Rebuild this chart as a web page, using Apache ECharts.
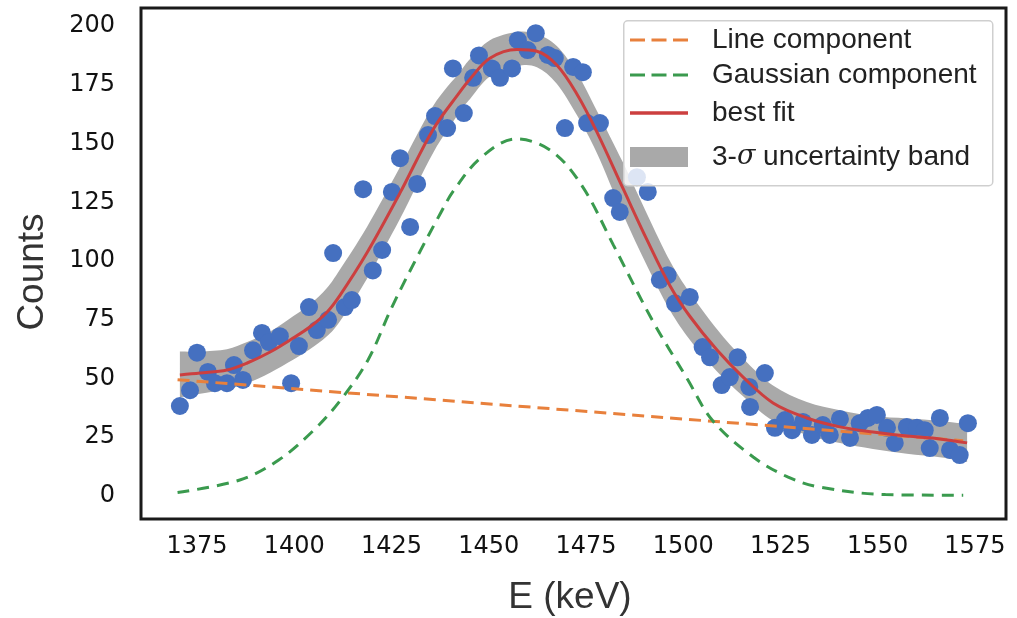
<!DOCTYPE html>
<html>
<head>
<meta charset="utf-8">
<script src="https://cdn.jsdelivr.net/npm/echarts@6/dist/echarts.min.js"></script>
<style>
html,body{margin:0;padding:0;background:#ffffff;}
#chart{width:1017px;height:618px;}
</style>
</head>
<body>
<div id="chart"></div>
<script>
// ---- tick labels ----
const xTickValues = [1375, 1400, 1425, 1450, 1475, 1500, 1525, 1550, 1575];
const yTickValues = [0, 25, 50, 75, 100, 125, 150, 175, 200];

// ---- measured points (E in keV, counts) ----
const pointE = [1370.6,1373.2,1375.0,1377.8,1379.6,1382.7,1384.5,1386.8,1389.4,1391.7,1393.5,1396.3,1399.2,1401.2,1403.8,1405.8,1408.7,1410.0,1413.0,1414.8,1417.7,1420.2,1422.6,1425.1,1427.2,1429.8,1431.6,1434.4,1436.2,1439.3,1440.8,1443.6,1446.0,1447.5,1450.8,1452.9,1456.0,1457.5,1460.0,1462.1,1465.2,1467.0,1469.6,1471.7,1474.2,1475.3,1478.6,1482.0,1483.7,1488.1,1490.9,1494.0,1496.0,1497.9,1501.7,1505.0,1506.9,1509.9,1512.0,1514.0,1517.0,1517.2,1521.0,1523.6,1526.2,1528.0,1530.8,1533.1,1535.9,1537.7,1540.3,1542.9,1545.4,1547.5,1549.8,1552.4,1554.4,1557.5,1560.1,1562.1,1563.4,1566.0,1568.6,1571.1,1573.2];
const pointCounts = [38.3,45,61,52.8,48,48,55.7,49.4,62,69.4,65.5,68,48,63.8,80.4,70.6,75,103.4,80.4,83.4,130.6,96,104.7,129.4,143.8,114.5,132.8,153.6,161.7,156.6,182,163,178,187.5,182,178,182,194,189.8,197,187.7,186.4,156.6,182.6,180.4,158.7,158.7,126.8,120.9,135.7,129.4,92,94,82,84.7,63.4,59,47.2,50.6,59,46.4,37.9,52.3,29,32.3,28,31.5,26,30.2,26,32.8,24.7,31,33.2,34.5,29,22.6,29.4,29,28,20.4,33.2,19.6,17.4,31];

// ---- best fit curve and 3-sigma band ----
const fitE = [1370.6,1375.8,1382.7,1387.9,1393.8,1399.7,1404.0,1408.4,1411.8,1418.7,1427.2,1435.7,1442.6,1445.2,1450.3,1457.3,1462.4,1467.5,1472.7,1477.8,1484.5,1490.7,1496.6,1501.7,1508.7,1515.4,1523.1,1531.8,1540.3,1548.8,1557.5,1566.0,1573.0];
const fitCounts = [51.5,52.3,53.6,56.6,61.3,67.2,71.9,78.2,85.5,103.5,129,156,172,177.5,186.3,190,189.3,183.4,171,155,131,109,89.5,76.5,62.1,50.6,39.6,33.2,29.4,27.2,25.5,24.3,22.6];
const bandLower = [42,43.5,45.5,48,52.5,58,62.5,68,74.5,92.5,118,146,163.5,169,178.5,183,182.5,175.5,162,146,120,98,79,66.5,53,42.5,32,26,22.5,20,18,16.5,14.5];
const bandUpper = [61.5,61.5,62.5,65.5,70,76.5,81.5,88.5,96.5,114.5,140,166,180.5,186,194,197.5,196.5,191.5,180,164,142,120,100,86.5,71,58.5,47,40,36.5,34,33,32,30.5];

// ---- Gaussian component ----
const gaussE = [1370,1386,1396,1405,1412,1419,1425,1432,1437.5,1441,1448,1457,1466,1474,1482,1492,1501,1507.6,1518,1527,1535,1552,1572];
const gaussCounts = [1.5,6.8,15.3,28,41,58,80,103,120,130,144,152,147,132,107,75,50,32,16.6,8,3.8,0.6,0.3];

// ---- Line component ----
const lineE = [1370, 1572];
const lineCounts = [49.5, 23.5];

const zip = (a, b) => a.map((v, i) => [v, b[i]]);

// Catmull-Rom style smoothing of screen points into bezier path commands
function curveCmds(pts) {
  let d = '';
  for (let i = 0; i < pts.length - 1; i++) {
    const p0 = pts[i - 1] || pts[i], p1 = pts[i], p2 = pts[i + 1], p3 = pts[i + 2] || p2;
    const c1 = [p1[0] + (p2[0] - p0[0]) / 6, p1[1] + (p2[1] - p0[1]) / 6];
    const c2 = [p2[0] - (p3[0] - p1[0]) / 6, p2[1] - (p3[1] - p1[1]) / 6];
    d += ' C' + c1[0].toFixed(2) + ',' + c1[1].toFixed(2) + ' ' + c2[0].toFixed(2) + ',' + c2[1].toFixed(2) + ' ' + p2[0].toFixed(2) + ',' + p2[1].toFixed(2);
  }
  return d;
}

const chart = echarts.init(document.getElementById('chart'), null, {renderer: 'canvas'});

const legendText = {
  fontFamily: "'Liberation Sans', Arial, sans-serif",
  fontSize: 28,
  color: '#222222',
  lineHeight: 32,
  padding: [0, 0, 0, 19],
  rich: {
    i: {fontFamily: "'DejaVu Serif', serif", fontStyle: 'italic', fontSize: 27, color: '#222222', lineHeight: 32}
  }
};
const dashIcon = 'path://M0,0h15v3h-15z M21.5,0h15v3h-15z M43,0h15v3h-15z';
const solidIcon = 'path://M0,0h58v3.5h-58z';
function legendAt(top, item) {
  return {
    show: true, orient: 'vertical', left: 630, top: top, padding: 0,
    itemWidth: 58, itemHeight: 20, itemGap: 0, z: 20,
    textStyle: legendText, selectedMode: false,
    formatter: function (n) { return n === '3-σ uncertainty band' ? '3-{i|σ} uncertainty band' : n; },
    data: [item]
  };
}

const option = {
  animation: false,
  backgroundColor: '#ffffff',
  grid: {left: 141, right: 11, top: 8, bottom: 99, show: true, borderColor: '#1a1a1a', borderWidth: 3, backgroundColor: 'transparent'},
  xAxis: {
    type: 'value', min: 1360.6, max: 1583,
    axisLine: {show: false}, axisTick: {show: false}, splitLine: {show: false},
    axisLabel: {customValues: xTickValues, formatter: v => String(v), margin: 16, fontFamily: "'DejaVu Sans', Verdana, sans-serif", fontSize: 24, color: '#111111'}
  },
  yAxis: {
    type: 'value', min: -9.8, max: 207.7,
    axisLine: {show: false}, axisTick: {show: false}, splitLine: {show: false},
    axisLabel: {customValues: yTickValues, formatter: v => String(v), margin: 26, fontFamily: "'DejaVu Sans', Verdana, sans-serif", fontSize: 24, color: '#111111'}
  },
  legend: [
    legendAt(24, {name: 'Line component', icon: dashIcon, itemStyle: {color: '#e8803c'}}),
    legendAt(59, {name: 'Gaussian component', icon: dashIcon, itemStyle: {color: '#3a9a4e'}}),
    legendAt(97, {name: 'best fit', icon: solidIcon, itemStyle: {color: '#cc3f3f'}}),
    legendAt(141, {name: '3-σ uncertainty band', icon: 'rect', itemStyle: {color: '#a9a9a9'}})
  ],
  graphic: [
    {type: 'rect', left: 623, top: 20, z: 15, shape: {width: 369, height: 165, r: 4},
     style: {fill: 'rgba(255,255,255,0.82)', stroke: '#cfcfcf', lineWidth: 1.5}},
    {type: 'text', x: 33, y: 272, rotation: Math.PI / 2, z: 20,
     style: {text: 'Counts', fontFamily: "'Liberation Sans', Arial, sans-serif", fontSize: 37, fill: '#333333', align: 'center', verticalAlign: 'middle'}},
    {type: 'text', x: 570, y: 598, z: 20,
     style: {text: 'E (keV)', fontFamily: "'Liberation Sans', Arial, sans-serif", fontSize: 37, fill: '#333333', align: 'center', verticalAlign: 'middle'}}
  ],
  series: [
    {name: '3-σ uncertainty band', type: 'custom', z: 1, silent: true, clip: true,
     data: fitE.map((e, i) => [e, bandLower[i], bandUpper[i]]),
     encode: {x: 0, y: [1, 2]},
     renderItem: function (params, api) {
       if (params.dataIndex !== 0) return null;
       const up = fitE.map((e, i) => api.coord([e, bandUpper[i]]));
       const lo = fitE.map((e, i) => api.coord([e, bandLower[i]])).reverse();
       const d = 'M' + up[0][0] + ',' + up[0][1] + curveCmds(up) +
                 ' L' + lo[0][0] + ',' + lo[0][1] + curveCmds(lo) + ' Z';
       return {type: 'path', shape: {pathData: d}, style: {fill: '#a9a9a9', stroke: null}};
     },
     itemStyle: {color: '#a9a9a9'}},
    {name: 'points', type: 'scatter', data: zip(pointE, pointCounts), symbolSize: 18,
     itemStyle: {color: '#4570c0', opacity: 1}, z: 2, silent: true},
    {name: 'Line component', type: 'line', data: zip(lineE, lineCounts), symbol: 'none',
     lineStyle: {color: '#e8803c', width: 3, type: [12, 7]}, itemStyle: {color: '#e8803c'}, z: 3, silent: true},
    {name: 'Gaussian component', type: 'line', data: zip(gaussE, gaussCounts), symbol: 'none', smooth: 0.35,
     lineStyle: {color: '#3a9a4e', width: 3, type: [12, 8]}, itemStyle: {color: '#3a9a4e'}, z: 3, silent: true},
    {name: 'best fit', type: 'line', data: zip(fitE, fitCounts), symbol: 'none', smooth: 0.35,
     lineStyle: {color: '#cc3f3f', width: 3}, itemStyle: {color: '#cc3f3f'}, z: 4, silent: true}
  ]
};
chart.setOption(option);
</script>
</body>
</html>
